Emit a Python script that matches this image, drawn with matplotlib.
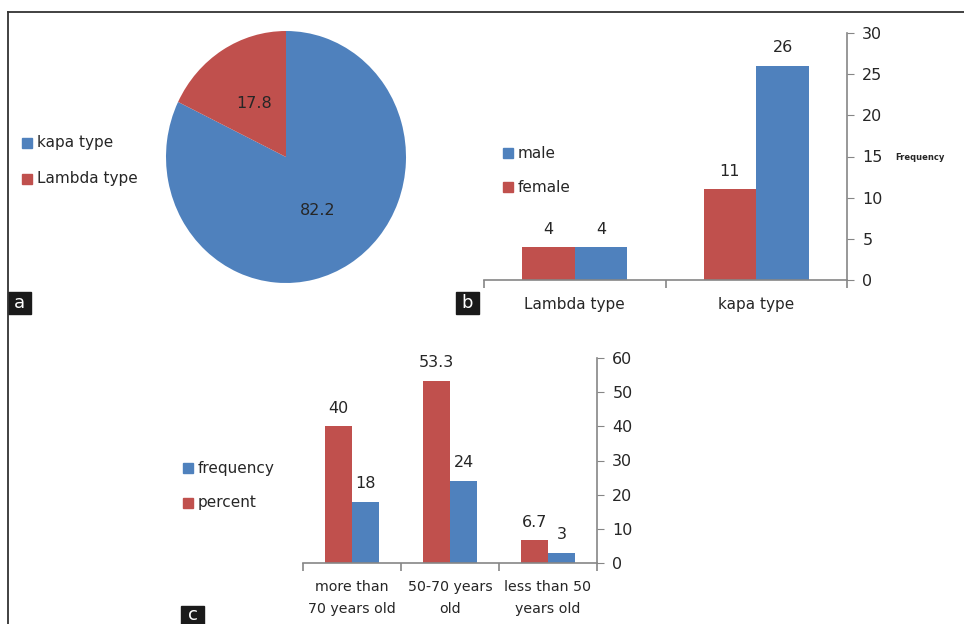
import matplotlib
matplotlib.use("Agg")
import matplotlib.pyplot as plt
from matplotlib.patches import Rectangle
from matplotlib.lines import Line2D

W, H = 964, 624

# ---- data ----
pie_labels = ["kapa type", "Lambda type"]
pie_values = [82.2, 17.8]

type_cats = ["Lambda type", "kapa type"]
female_vals = [4, 11]
male_vals = [4, 26]

age_cats = ["more than\n70 years old", "50-70 years\nold", "less than 50\nyears old"]
percent_vals = [40, 53.3, 6.7]
freq_vals = [18, 24, 3]

BLUE = "#4F81BD"
RED = "#C0504D"
TXT = "#262626"
AXC = "#868686"

plt.rcParams['font.family'] = ['DejaVu Sans']

fig = plt.figure(figsize=(W / 100, H / 100), dpi=100)


def px_axes(x0, y0, x1, y1):
    return fig.add_axes([x0 / W, 1 - y1 / H, (x1 - x0) / W, (y1 - y0) / H])


def legend_px(items, x, ys, size=11):
    # small square + label, placed in pixel coords
    for (lab, col), y in zip(items, ys):
        fig.patches.append(Rectangle((x / W, 1 - (y + 5) / H), 10 / W, 10 / H,
                                     transform=fig.transFigure, color=col))
        fig.text((x + 15) / W, 1 - y / H, lab, fontsize=size, color=TXT,
                 va="center", ha="left")


def panel_tag(letter, x0, y0, x1, y1):
    fig.patches.append(Rectangle((x0 / W, 1 - y1 / H), (x1 - x0) / W, (y1 - y0) / H,
                                 transform=fig.transFigure, color="#1a1a1a"))
    fig.text((x0 + x1) / 2 / W, 1 - (y0 + y1) / 2 / H, letter, color="white",
             fontsize=13, ha="center", va="center")


def bar_panel(ax, cats, left_vals, right_vals, ymax, ystep, width, cat_size):
    x = list(range(len(cats)))
    b1 = ax.bar([i - width / 2 for i in x], left_vals, width, color=RED)
    b2 = ax.bar([i + width / 2 for i in x], right_vals, width, color=BLUE)
    for bars, vals in ((b1, left_vals), (b2, right_vals)):
        for r, v in zip(bars, vals):
            ax.annotate(f"{v:g}", (r.get_x() + r.get_width() / 2, v), xytext=(0, 13),
                        textcoords="offset points", ha="center", va="center",
                        fontsize=11.5, color=TXT)
    ax.set_xlim(-0.5, len(cats) - 0.5)
    ax.set_ylim(0, ymax)
    for s in ("left", "top"):
        ax.spines[s].set_visible(False)
    for s in ("right", "bottom"):
        ax.spines[s].set_color(AXC)
        ax.spines[s].set_linewidth(1.2)
    ax.yaxis.tick_right()
    ax.set_yticks(range(0, ymax + 1, ystep))
    ax.tick_params(axis="y", colors=AXC, labelcolor=TXT, labelsize=11.5, length=5,
                   direction="out", pad=6)
    ax.set_xticks(x)
    ax.set_xticklabels(cats, fontsize=cat_size, color=TXT)
    ax.set_xticks([i - 0.5 for i in range(len(cats) + 1)], minor=True)
    ax.tick_params(axis="x", which="major", length=0, pad=12)
    ax.tick_params(axis="x", which="minor", length=6, color=AXC, width=1.2)
    ax.set_facecolor("none")
    return b1, b2


# ---- panel a: pie ----
ax_a = px_axes(166, 31, 406, 283)
ax_a.pie(pie_values, colors=[BLUE, RED], startangle=90, counterclock=False,
         autopct=lambda p: f"{p:.1f}", pctdistance=0.5,
         textprops=dict(fontsize=11.5, color=TXT))
ax_a.set_aspect("auto")
ax_a.set_xlim(-1, 1)
ax_a.set_ylim(-1, 1)
legend_px([(pie_labels[0], BLUE), (pie_labels[1], RED)], 22, [143, 179])

# ---- panel b ----
ax_b = px_axes(484, 33, 847, 280)
bar_panel(ax_b, type_cats, female_vals, male_vals, 30, 5, 0.29, 11)
legend_px([("male", BLUE), ("female", RED)], 503, [153, 187])
fig.text(895 / W, 1 - 158 / H, "Frequency", fontsize=6, fontweight="bold",
         color=TXT, va="center", ha="left")

# ---- panel c ----
ax_c = px_axes(303, 358, 597, 563)
bar_panel(ax_c, age_cats, percent_vals, freq_vals, 60, 10, 0.28, 10.2)
ax_c.tick_params(axis="x", which="major", pad=12)
for t in ax_c.get_xticklabels():
    t.set_linespacing(1.75)
legend_px([("frequency", BLUE), ("percent", RED)], 183, [468, 503])

# ---- frame and panel tags ----
fig.add_artist(Line2D([8 / W, 1], [1 - 12 / H, 1 - 12 / H], color="#333333", lw=1.3))
fig.add_artist(Line2D([8 / W, 8 / W], [0, 1 - 12 / H], color="#333333", lw=1.3))
panel_tag("a", 8, 292, 31, 314)
panel_tag("b", 456, 292, 479, 314)
panel_tag("c", 181, 606, 204, 624)

fig.savefig("out.png", dpi=100)
